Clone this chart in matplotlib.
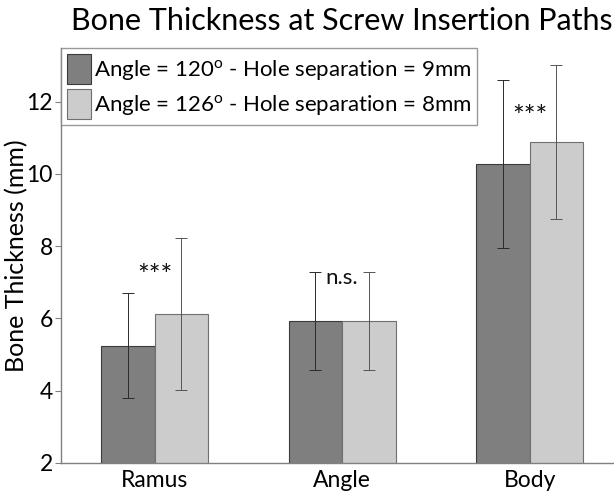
import numpy as np
import matplotlib
matplotlib.use('Agg')
import matplotlib.pyplot as plt

plt.rcParams['font.family'] = ['Lato', 'DejaVu Sans']
plt.rcParams['mathtext.fontset'] = 'custom'
plt.rcParams['mathtext.rm'] = 'Lato'
plt.rcParams['mathtext.it'] = 'Lato'

# data
regions = ['Ramus', 'Angle', 'Body']
mean_120 = [5.25, 5.93, 10.27]
err_120 = [1.45, 1.35, 2.32]
mean_126 = [6.13, 5.93, 10.88]
err_126 = [2.1, 1.35, 2.12]
signif = ['***', 'n.s.', '***']
signif_y = [7.15, 7.12, 11.55]
signif_size = [20, 16, 20]

label_120 = r'Angle = 120$^{\mathrm{o}}$ - Hole separation = 9mm'
label_126 = r'Angle = 126$^{\mathrm{o}}$ - Hole separation = 8mm'

grey = '#808080'
x = np.arange(1, len(regions) + 1)
w = 0.285

fig = plt.figure(figsize=(6.14, 4.94), dpi=100)
ax = fig.add_axes([0.0993, 0.0628, 0.9007, 0.840])

ax.bar(x - w/2, mean_120, w, bottom=0, color='#7f7f7f', edgecolor='#3a3a3a',
       linewidth=0.8, label=label_120)
ax.bar(x + w/2, mean_126, w, bottom=0, color='#cccccc', edgecolor='#707070',
       linewidth=0.8, label=label_126)
ax.errorbar(x - w/2, mean_120, yerr=err_120, fmt='none', ecolor='#2a2a2a',
            elinewidth=0.7, capsize=4, capthick=0.7)
ax.errorbar(x + w/2, mean_126, yerr=err_126, fmt='none', ecolor='#555555',
            elinewidth=0.7, capsize=4, capthick=0.7)

for xi, s, yi, fs in zip(x, signif, signif_y, signif_size):
    ax.text(xi, yi, s, ha='center', va='center', fontsize=fs, color='#111111')

ax.set_xlim(0.5, 3.45)
ax.set_ylim(2, 13.48)
ax.set_xticks(x)
ax.set_xticklabels(regions, fontsize=16.5)
ax.set_yticks([2, 4, 6, 8, 10, 12])
ax.tick_params(axis='y', labelsize=16.5, color=grey, length=4, pad=2)
ax.tick_params(axis='x', length=0, pad=5)

for side in ['top', 'right']:
    ax.spines[side].set_visible(False)
for side in ['left', 'bottom']:
    ax.spines[side].set_color(grey)
    ax.spines[side].set_linewidth(1.0)

fig.text(17/614, 1 - 256/494, 'Bone Thickness (mm)', rotation=90,
         ha='center', va='center', fontsize=18)
fig.text(0.557, 0.958, 'Bone Thickness at Screw Insertion Paths', ha='center',
         va='center', fontsize=22)

leg = ax.legend(loc='upper left', borderaxespad=0, fontsize=16, frameon=True,
                fancybox=False, edgecolor=grey, handlelength=1.1,
                handleheight=1.75, handletextpad=0.15, borderpad=0.25,
                labelspacing=0.2)
leg.get_frame().set_linewidth(1.0)

fig.savefig('out.png', dpi=100)
